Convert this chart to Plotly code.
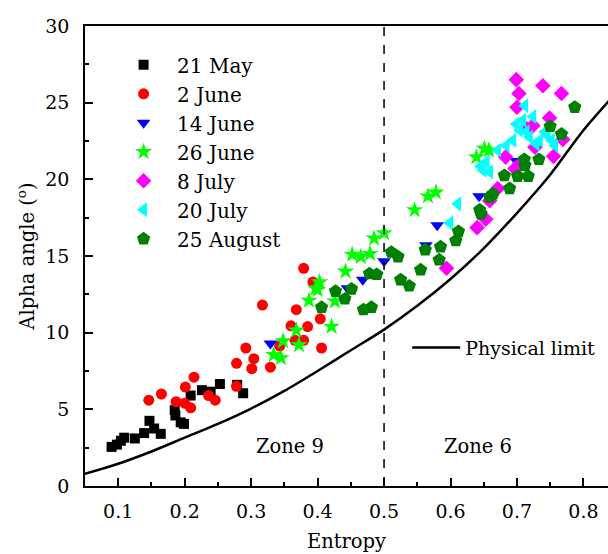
import plotly.graph_objects as go

# ---- data ----
may21_x = [0.090, 0.098, 0.104, 0.109, 0.125, 0.139, 0.147, 0.154, 0.164, 0.185, 0.186, 0.194, 0.199, 0.209, 0.226, 0.239, 0.253, 0.279, 0.288]
may21_y = [2.55, 2.70, 2.95, 3.15, 3.10, 3.45, 4.25, 3.75, 3.40, 4.95, 4.60, 4.15, 4.05, 5.90, 6.25, 6.15, 6.65, 6.60, 6.05]

jun2_x = [0.146, 0.165, 0.187, 0.200, 0.209, 0.201, 0.214, 0.236, 0.246, 0.278, 0.278, 0.292, 0.304, 0.301, 0.329, 0.343, 0.317, 0.360, 0.368, 0.366, 0.379, 0.385, 0.379, 0.393, 0.404, 0.406]
jun2_y = [5.60, 6.00, 5.50, 5.40, 5.10, 6.45, 7.10, 5.90, 5.60, 6.50, 8.00, 9.00, 8.30, 7.65, 7.75, 9.13, 11.80, 10.45, 11.50, 9.50, 9.50, 10.40, 14.20, 13.30, 10.90, 9.00]

jun14_x = [0.329, 0.445, 0.468, 0.500, 0.563, 0.580, 0.643, 0.699]
jun14_y = [9.30, 12.90, 13.45, 14.65, 15.70, 17.00, 18.90, 21.20]

jun26_x = [0.334, 0.345, 0.348, 0.368, 0.372, 0.387, 0.397, 0.403, 0.400, 0.421, 0.426, 0.442, 0.452, 0.465, 0.479, 0.485, 0.500, 0.546, 0.566, 0.578, 0.639, 0.651, 0.658]
jun26_y = [8.55, 8.35, 9.45, 10.15, 9.20, 12.10, 12.90, 13.30, 12.80, 10.40, 12.05, 14.00, 15.10, 14.95, 15.15, 16.15, 16.50, 18.00, 18.90, 19.15, 21.45, 22.00, 21.90]

jul8_x = [0.594, 0.640, 0.653, 0.659, 0.671, 0.683, 0.697, 0.700, 0.699, 0.703, 0.739, 0.767, 0.749, 0.769, 0.755, 0.727, 0.724, 0.715, 0.705]
jul8_y = [14.20, 16.85, 17.40, 18.60, 19.40, 21.45, 20.70, 24.70, 26.50, 25.60, 26.10, 25.60, 24.00, 22.60, 21.50, 22.10, 23.50, 23.30, 21.00]

jul20_x = [0.599, 0.611, 0.645, 0.654, 0.659, 0.649, 0.671, 0.684, 0.694, 0.699, 0.709, 0.712, 0.724, 0.704, 0.714, 0.719, 0.734, 0.742, 0.752, 0.757, 0.746, 0.729]
jul20_y = [17.15, 18.40, 20.85, 21.15, 20.50, 20.60, 21.90, 22.20, 22.55, 23.60, 23.85, 24.80, 24.10, 23.20, 23.10, 22.75, 22.55, 23.10, 22.55, 22.20, 22.85, 22.30]

aug25_x = [0.406, 0.427, 0.441, 0.451, 0.469, 0.481, 0.478, 0.489, 0.511, 0.521, 0.525, 0.538, 0.555, 0.562, 0.585, 0.583, 0.608, 0.612, 0.644, 0.646, 0.659, 0.664, 0.689, 0.681, 0.701, 0.717, 0.711, 0.712, 0.733, 0.750, 0.767, 0.787]
aug25_y = [11.65, 12.70, 12.20, 12.85, 11.50, 11.65, 13.85, 13.80, 15.25, 14.95, 13.45, 13.05, 14.10, 15.40, 15.60, 14.75, 16.00, 16.60, 18.00, 17.75, 18.85, 19.05, 19.40, 20.25, 20.20, 20.20, 21.30, 20.90, 21.30, 23.45, 22.95, 24.70]

limit_x = [0.05, 0.10, 0.15, 0.20, 0.25, 0.30, 0.35, 0.40, 0.45, 0.50, 0.55, 0.60, 0.65, 0.70, 0.75, 0.80, 0.84]
limit_y = [0.80, 1.45, 2.25, 3.15, 4.05, 5.05, 6.20, 7.50, 8.85, 10.20, 11.75, 13.50, 15.50, 17.80, 20.30, 23.20, 25.20]

series = [
    ("21 May", may21_x, may21_y, "square", "#000000", 10),
    ("2 June", jun2_x, jun2_y, "circle", "#FF0000", 11),
    ("14 June", jun14_x, jun14_y, "triangle-down", "#0000FF", 12),
    ("26 June", jun26_x, jun26_y, "star", "#00FF00", 13),
    ("8 July", jul8_x, jul8_y, "diamond", "#FF00FF", 12),
    ("20 July", jul20_x, jul20_y, "triangle-left", "#00FFFF", 13),
    ("25 August", aug25_x, aug25_y, "pentagon", "#008000", 14),
]

FONT = "DejaVu Serif"

fig = go.Figure()
fig.add_trace(go.Scatter(x=limit_x, y=limit_y, mode="lines", name="Physical limit",
                         line=dict(color="black", width=2.5, shape="spline", smoothing=0.8),
                         legend="legend2"))
for name, xs, ys, sym, col, sz in series:
    fig.add_trace(go.Scatter(x=xs, y=ys, mode="markers", name=name,
                             marker=dict(symbol=sym, color=col, size=sz, line=dict(width=0))))

fig.add_shape(type="line", x0=0.5, x1=0.5, y0=0, y1=30, xref="x", yref="y",
              line=dict(color="black", width=1.5, dash="dash"))

fig.add_annotation(x=0.358, y=2.6, text="Zone 9", showarrow=False,
                   font=dict(family=FONT, size=19.5, color="black"))
fig.add_annotation(x=0.641, y=2.6, text="Zone 6", showarrow=False,
                   font=dict(family=FONT, size=19.5, color="black"))

fig.update_layout(
    width=608, height=554,
    margin=dict(l=85, r=0, t=26, b=68),
    plot_bgcolor="white", paper_bgcolor="white",
    font=dict(family=FONT, size=19, color="black"),
    showlegend=True,
    legend=dict(x=0.048, y=0.958, xanchor="left", yanchor="top",
                font=dict(family=FONT, size=20), itemwidth=57,
                bgcolor="rgba(0,0,0,0)", traceorder="normal"),
    legend2=dict(x=0.616, y=0.301, xanchor="left", yanchor="middle",
                 font=dict(family=FONT, size=19), itemwidth=48,
                 bgcolor="rgba(0,0,0,0)"),
    xaxis=dict(range=[0.05, 0.837], tickmode="array",
               tickvals=[0.1, 0.2, 0.3, 0.4, 0.5, 0.6, 0.7, 0.8],
               ticktext=["0.1", "0.2", "0.3", "0.4", "0.5", "0.6", "0.7", "0.8"],
               ticks="inside", ticklen=8, tickwidth=1.5, tickcolor="black",
               minor=dict(dtick=0.05, tick0=0.05, ticks="inside", ticklen=4, tickwidth=1.5, tickcolor="black"),
               showline=True, linecolor="black", linewidth=1.5, mirror=True,
               showgrid=False, zeroline=False,
               title=dict(text="Entropy", font=dict(family=FONT, size=19.5), standoff=14),
               tickfont=dict(family=FONT, size=19), ticklabelstandoff=7),
    yaxis=dict(range=[0, 30], tickmode="array",
               tickvals=[0, 5, 10, 15, 20, 25, 30],
               ticks="inside", ticklen=8, tickwidth=1.5, tickcolor="black",
               minor=dict(dtick=2.5, tick0=0, ticks="inside", ticklen=4, tickwidth=1.5, tickcolor="black"),
               showline=True, linecolor="black", linewidth=1.5, mirror=False,
               showgrid=False, zeroline=False,
               title=dict(text="Alpha angle (<sup>o</sup>)", font=dict(family=FONT, size=19.5), standoff=5),
               tickfont=dict(family=FONT, size=19), ticklabelstandoff=10),
)

fig.write_html("out.html")
